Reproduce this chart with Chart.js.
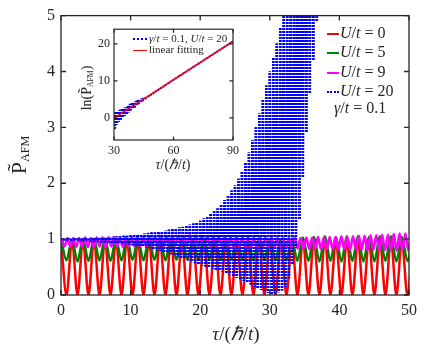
<!DOCTYPE html>
<html>
<head>
<meta charset="utf-8">
<script src="https://cdn.jsdelivr.net/npm/chart.js@4.4.0/dist/chart.umd.min.js"></script>
<style>
  body { margin: 0; background: #fff; }
  #wrap { position: relative; width: 436px; height: 354px; font-family: "Liberation Serif", serif; color: #262626; }
  canvas { position: absolute; }
  .t { position: absolute; white-space: nowrap; line-height: 1; }
  .c { transform: translate(-50%, -50%); }
  .r { transform: translate(-50%, -50%) rotate(-90deg); }
  .row { position: absolute; white-space: nowrap; font-size: 16px; line-height: 20px; height: 20px; }
  .smp { display: inline-block; width: 12px; vertical-align: middle; margin-right: 1px; }
  .irow { position: absolute; white-space: nowrap; font-size: 11px; line-height: 12px; }
  .irow .smp { width: 14px; margin-right: 2px; }
  sub { font-size: 0.55em; vertical-align: -0.25em; }
</style>
</head>
<body>
<div id="wrap">
  <canvas id="main" width="436" height="354" style="left:0;top:0"></canvas>
  <canvas id="inset" width="175" height="165" style="left:70px;top:18px"></canvas>

  <div class="t r" style="left:20px;top:155px;font-size:22px">P&#771;<sub>AFM</sub></div>
  <div class="t c" style="left:236px;top:333px;font-size:19px"><i>τ</i>/(<i>ℏ</i>/<i>t</i>)</div>

  <div class="row" style="left:327px;top:23px"><span class="smp" style="border-top:2.5px solid #ff0000"></span><i>U</i>/<i>t</i> = 0</div>
  <div class="row" style="left:327px;top:42px"><span class="smp" style="border-top:2.5px solid #008000"></span><i>U</i>/<i>t</i> = 5</div>
  <div class="row" style="left:327px;top:62px"><span class="smp" style="border-top:2.5px solid #ff00ff"></span><i>U</i>/<i>t</i> = 9</div>
  <div class="row" style="left:327px;top:81px"><span class="smp" style="border-top:2px dotted #0000ff"></span><i>U</i>/<i>t</i> = 20</div>
  <div class="row" style="left:334px;top:98px"><i>γ</i>/<i>t</i> = 0.1</div>

  <div class="t r" style="left:87px;top:88px;font-size:14px">ln(P&#771;<sub>AFM</sub>)</div>
  <div class="t c" style="left:173px;top:165px;font-size:14px"><i>τ</i>/(<i>ℏ</i>/<i>t</i>)</div>
  <div class="irow" style="left:133px;top:32px"><span class="smp" style="border-top:2px dotted #0000ff"></span><i>γ</i>/<i>t</i> = 0.1, <i>U</i>/<i>t</i> = 20</div>
  <div class="irow" style="left:133px;top:43px"><span class="smp" style="border-top:1.5px solid #ff0000"></span>linear fitting</div>
</div>

<script>
// U/t = 0 : peaks at 0, 1.58, 3.16 ... troughs in between
var redStep = 0.79;
var redPeaks = [0.99, 0.98, 0.98, 0.99, 0.98, 0.98, 0.99, 0.98, 0.98, 0.99, 0.98,
                0.98, 0.99, 0.98, 0.98, 0.99, 0.98, 0.98, 0.99, 0.98, 0.98, 0.99,
                0.98, 0.98, 0.99, 0.98, 0.98, 0.99, 0.98, 0.98, 0.99, 0.98, 0.98];
var redTroughs = [0, 0, 0, 0, 0, 0, 0, 0, 0, 0, 0, 0, 0, 0, 0, 0,
                  0, 0, 0, 0, 0, 0, 0, 0, 0, 0, 0, 0, 0, 0, 0, 0];

// U/t = 5 : same rhythm as U/t = 0
var greenPeaks = [1.00, 0.99, 1.00, 1.00, 1.01, 1.00, 1.01, 1.00, 1.01, 1.01, 1.00,
                  1.01, 1.00, 1.01, 1.00, 1.00, 1.01, 1.00, 1.00, 0.99, 1.00, 1.01,
                  1.03, 1.04, 1.05, 1.04, 1.05, 1.05, 1.04, 1.05, 1.05, 1.04, 1.05];
var greenTroughs = [0.62, 0.60, 0.61, 0.62, 0.61, 0.62, 0.63, 0.62, 0.63, 0.62, 0.63,
                    0.64, 0.63, 0.64, 0.63, 0.64, 0.63, 0.62, 0.63, 0.62, 0.62, 0.61,
                    0.61, 0.60, 0.61, 0.60, 0.61, 0.60, 0.60, 0.61, 0.60, 0.61];

// U/t = 9 : faster wiggle
var magStart = 0.1;
var magStep = 0.4185;
var magPeaks = [1.01, 1.02, 1.02, 1.02, 1.03, 1.02, 1.03, 1.03, 1.03, 1.04, 1.03, 1.04,
                1.04, 1.05, 1.04, 1.05, 1.05, 1.06, 1.05, 1.06, 1.06, 1.06, 1.07, 1.06,
                1.06, 1.05, 1.06, 1.05, 1.05, 1.04, 1.05, 1.04, 1.04, 1.03, 1.04, 1.03,
                1.03, 1.02, 1.02, 1.02, 1.03, 1.02, 1.03, 1.03, 1.04, 1.03, 1.04, 1.04,
                1.05, 1.04, 1.05, 1.06, 1.06, 1.07, 1.07, 1.08, 1.08, 1.09, 1.10, 1.10, 1.11];
var magTroughs = [0.87, 0.86, 0.86, 0.87, 0.86, 0.86, 0.87, 0.86, 0.87, 0.87, 0.86, 0.87,
                  0.87, 0.88, 0.87, 0.88, 0.88, 0.87, 0.88, 0.88, 0.87, 0.88, 0.87, 0.87,
                  0.87, 0.86, 0.87, 0.86, 0.86, 0.85, 0.86, 0.85, 0.85, 0.84, 0.85, 0.84,
                  0.84, 0.84, 0.83, 0.84, 0.83, 0.83, 0.82, 0.83, 0.82, 0.82, 0.82, 0.81,
                  0.82, 0.81, 0.81, 0.81, 0.80, 0.81, 0.80, 0.80, 0.80, 0.79, 0.80, 0.79];

// U/t = 20 : fast oscillation, upper at 0, 0.5, 1 ..., lower at 0.25, 0.75 ...
var blueStep = 0.25;
var blueUpper = [1.00, 1.00, 1.01, 1.00, 1.01, 1.01, 1.01, 1.02, 1.01, 1.02,
                 1.02, 1.02, 1.03, 1.03, 1.04, 1.04, 1.05, 1.05, 1.06, 1.06,
                 1.07, 1.08, 1.08, 1.09, 1.10, 1.11, 1.12, 1.12, 1.13, 1.14,
                 1.15, 1.17, 1.18, 1.19, 1.21, 1.22, 1.24, 1.26, 1.28, 1.30,
                 1.33, 1.37, 1.41, 1.45, 1.50, 1.55, 1.62, 1.70, 1.78, 1.87,
                 1.96, 2.08, 2.20, 2.37, 2.55, 2.77, 3.00, 3.25, 3.50, 3.75,
                 4.00, 4.25, 4.50, 4.78, 5.10, 5.40, 5.80, 6.20, 6.70, 7.20,
                 7.80, 8.40, 9.00, 9.70, 10.4];
var blueLower = [0.98, 0.97, 0.98, 0.97, 0.97, 0.96, 0.96, 0.96, 0.95, 0.95,
                 0.95, 0.94, 0.94, 0.93, 0.93, 0.92, 0.92, 0.91, 0.91, 0.90,
                 0.89, 0.88, 0.87, 0.86, 0.85, 0.84, 0.82, 0.80, 0.79, 0.77,
                 0.75, 0.73, 0.71, 0.69, 0.67, 0.64, 0.62, 0.60, 0.57, 0.55,
                 0.53, 0.51, 0.49, 0.47, 0.45, 0.43, 0.41, 0.39, 0.37, 0.34,
                 0.31, 0.28, 0.25, 0.22, 0.19, 0.15, 0.12, 0.09, 0.06, 0.04,
                 0.02, 0.03, 0.05, 0.08, 0.15, 0.30, 0.55, 0.85, 1.35, 2.10,
                 2.90, 3.60, 4.20, 4.90, 5.50];

// inset: ln(P_AFM) of U/t = 20 and its linear fit
var insetStart = 30;
var insetStep = 0.5;
var insetHigh = [1.5, 1.7, 1.9, 2.2, 2.4, 2.7, 2.9, 3.2, 3.8, 4.1, 4.3, 4.6, 4.9, 5.1, 5.3, 5.4];
var insetLow = [-3.2, -1.8, -1.1, -0.5, 0.0, 0.5, 1.0, 1.5, 2.0, 2.4, 2.8, 3.3, 3.7, 4.1, 4.5, 4.9];
var insetTailX = [46, 60, 75, 90];
var insetTailY = [5.3, 10.3, 15.5, 20.7];
var fitX = [30, 90];
var fitY = [-0.1, 20.7];

var xTicks = [0, 10, 20, 30, 40, 50];
var yTicks = [0, 1, 2, 3, 4, 5];
var insetXTicks = [30, 60, 90];
var insetYTicks = [0, 10, 20];

// alternate high / low values on an even time step
function zigzag(start, step, highs, lows) {
    var pts = [];
    var n = highs.length + lows.length;
    for (var i = 0; i < n; i++) {
        var v = i % 2 === 0 ? highs[i / 2] : lows[(i - 1) / 2];
        pts.push({ x: start + i * step, y: v });
    }
    return pts;
}

// anchor the dot pattern of each segment to the page, so dots line up in rows
var DOT = 3;
function mod(v, m) { return ((v % m) + m) % m; }
function dotOffset(ctx) {
    var y0 = ctx.p0.y, y1 = ctx.p1.y;
    return y1 < y0 ? mod(-y0, DOT) : mod(y0 - 1, DOT);
}

var axisColor = '#262626';

// MATLAB-like box with inward ticks on all sides
var boxTicks = {
    id: 'boxTicks',
    afterDatasetsDraw: function (chart, args, opts) {
        var ctx = chart.ctx, a = chart.chartArea;
        var sx = chart.scales.x, sy = chart.scales.y;
        ctx.save();
        ctx.strokeStyle = axisColor;
        ctx.lineWidth = opts.width;
        ctx.strokeRect(a.left, a.top, a.right - a.left, a.bottom - a.top);
        ctx.beginPath();
        sx.ticks.forEach(function (t) {
            var p = sx.getPixelForValue(t.value);
            ctx.moveTo(p, a.bottom); ctx.lineTo(p, a.bottom - opts.len);
            ctx.moveTo(p, a.top); ctx.lineTo(p, a.top + opts.len);
        });
        sy.ticks.forEach(function (t) {
            var p = sy.getPixelForValue(t.value);
            ctx.moveTo(a.left, p); ctx.lineTo(a.left + opts.len, p);
            ctx.moveTo(a.right, p); ctx.lineTo(a.right - opts.len, p);
        });
        ctx.stroke();
        ctx.restore();
    }
};

function fixTicks(list) {
    return function (scale) {
        scale.ticks = list.map(function (v) { return { value: v }; });
    };
}

var smooth = { cubicInterpolationMode: 'monotone', pointRadius: 0, fill: false };

new Chart('main', {
    type: 'line',
    data: {
        datasets: [
            Object.assign({ label: 'U/t = 0', data: zigzag(0, redStep, redPeaks, redTroughs),
                borderColor: '#ff0000', borderWidth: 2.5, order: 4 }, smooth),
            Object.assign({ label: 'U/t = 5', data: zigzag(0, redStep, greenPeaks, greenTroughs),
                borderColor: '#008000', borderWidth: 2.5, order: 3 }, smooth),
            Object.assign({ label: 'U/t = 9', data: zigzag(magStart, magStep, magPeaks, magTroughs),
                borderColor: '#ff00ff', borderWidth: 2.5, order: 2 }, smooth),
            { label: 'U/t = 20', data: zigzag(0, blueStep, blueUpper, blueLower),
                borderColor: '#0000ff', borderWidth: 2.5, borderDash: [2, 1],
                segment: { borderDashOffset: dotOffset },
                pointRadius: 0, tension: 0, fill: false, order: 1 }
        ]
    },
    options: {
        responsive: false,
        animation: false,
        devicePixelRatio: 1,
        layout: { padding: { left: 0, top: 13, right: 27, bottom: 0 } },
        plugins: { legend: { display: false }, tooltip: { enabled: false },
                   boxTicks: { len: 5, width: 1.3 } },
        scales: {
            x: {
                type: 'linear', min: 0, max: 50,
                afterBuildTicks: fixTicks(xTicks),
                afterFit: function (s) { s.height = 59; },
                grid: { display: false, drawTicks: false },
                border: { display: false },
                ticks: { color: axisColor, padding: 6, maxRotation: 0,
                         font: { family: 'Liberation Serif', size: 16 } }
            },
            y: {
                min: 0, max: 5,
                afterBuildTicks: fixTicks(yTicks),
                afterFit: function (s) { s.width = 61; },
                grid: { display: false, drawTicks: false },
                border: { display: false },
                ticks: { color: axisColor, padding: 6,
                         font: { family: 'Liberation Serif', size: 16 } }
            }
        }
    },
    plugins: [boxTicks]
});

var insetBlue = zigzag(insetStart, insetStep, insetHigh, insetLow);
insetTailX.forEach(function (x, i) { insetBlue.push({ x: x, y: insetTailY[i] }); });

new Chart('inset', {
    type: 'line',
    data: {
        datasets: [
            { label: 'linear fitting', data: fitX.map(function (x, i) { return { x: x, y: fitY[i] }; }),
              borderColor: '#ff0000', borderWidth: 1.5, pointRadius: 0, order: 1 },
            { label: 'U/t = 20', data: insetBlue, borderColor: '#0000ff', borderWidth: 2,
              borderDash: [2, 1], segment: { borderDashOffset: dotOffset },
              pointRadius: 0, tension: 0, order: 2 }
        ]
    },
    options: {
        responsive: false,
        animation: false,
        devicePixelRatio: 1,
        layout: { padding: { left: 0, top: 8, right: 12, bottom: 0 } },
        plugins: { legend: { display: false }, tooltip: { enabled: false },
                   boxTicks: { len: 3.5, width: 1.2 } },
        scales: {
            x: {
                type: 'linear', min: 30, max: 90,
                afterBuildTicks: fixTicks(insetXTicks),
                afterFit: function (s) { s.height = 43; },
                grid: { display: false, drawTicks: false },
                border: { display: false },
                ticks: { color: axisColor, padding: 4, maxRotation: 0,
                         font: { family: 'Liberation Serif', size: 12 } }
            },
            y: {
                min: -6, max: 24,
                afterBuildTicks: fixTicks(insetYTicks),
                afterFit: function (s) { s.width = 44; },
                grid: { display: false, drawTicks: false },
                border: { display: false },
                ticks: { color: axisColor, padding: 4,
                         font: { family: 'Liberation Serif', size: 12 } }
            }
        }
    },
    plugins: [boxTicks]
});
</script>
</body>
</html>
